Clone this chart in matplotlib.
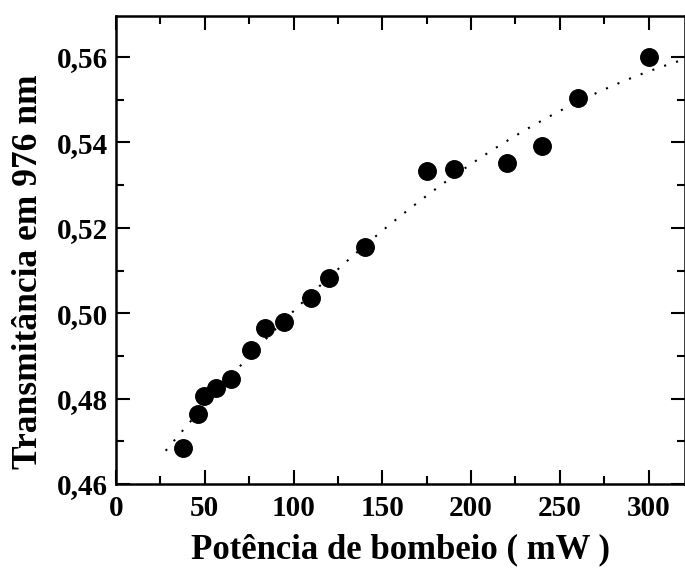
import matplotlib.pyplot as plt
import numpy as np
from matplotlib.ticker import MultipleLocator, FuncFormatter

plt.rcParams['font.family'] = ['Liberation Serif', 'DejaVu Serif']
plt.rcParams['font.weight'] = 'bold'

# pump power (mW) and transmittance at 976 nm
power = [37.9, 46.1, 49.8, 56.2, 64.9, 76.1, 84.2, 94.9, 110.0, 120.1,
         140.0, 175.2, 190.2, 220.3, 240.2, 260.0, 300.0]
trans = [0.4685, 0.4763, 0.4805, 0.4824, 0.4845, 0.4914, 0.4965, 0.4979,
         0.5035, 0.5083, 0.5156, 0.5334, 0.5337, 0.5351, 0.5392, 0.5504, 0.5600]
fit_range = [28, 322]

fig = plt.figure(figsize=(6.85, 5.74), dpi=100)
ax = fig.add_axes([0.1693, 0.1568, 0.8307, 0.8153])

# quadratic fit drawn as dotted line
coef = np.polyfit(power, trans, 2)
xf = np.linspace(fit_range[0], fit_range[1], 300)
ax.plot(xf, np.polyval(coef, xf), color='black', lw=1.5, linestyle=(0, (1, 5)))
ax.plot(power, trans, 'o', color='black', markersize=12.6)

ax.set_xlim(0, 320.5)
ax.set_ylim(0.46, 0.5696)
ax.xaxis.set_major_locator(MultipleLocator(50))
ax.xaxis.set_minor_locator(MultipleLocator(25))
ax.yaxis.set_major_locator(MultipleLocator(0.02))
ax.yaxis.set_minor_locator(MultipleLocator(0.01))
ax.yaxis.set_major_formatter(FuncFormatter(lambda v, p: f"{v:.2f}".replace('.', ',')))

ax.tick_params(which='both', direction='in', top=True, right=True, width=1.5,
               labelsize=21)
ax.tick_params(which='major', length=10)
ax.tick_params(which='minor', length=6)
ax.tick_params(axis='x', which='major', pad=8)
ax.tick_params(axis='y', which='major', pad=6)
for s in ax.spines.values():
    s.set_linewidth(1.8)

ax.set_xlabel("Potência de bombeio ( mW )", fontsize=25, fontweight='bold', labelpad=8)
ax.set_ylabel("Transmitância em 976 nm", fontsize=25.5, fontweight='bold')
ax.yaxis.set_label_coords(-0.124, 0.453)

plt.savefig("out.png", dpi=100)
